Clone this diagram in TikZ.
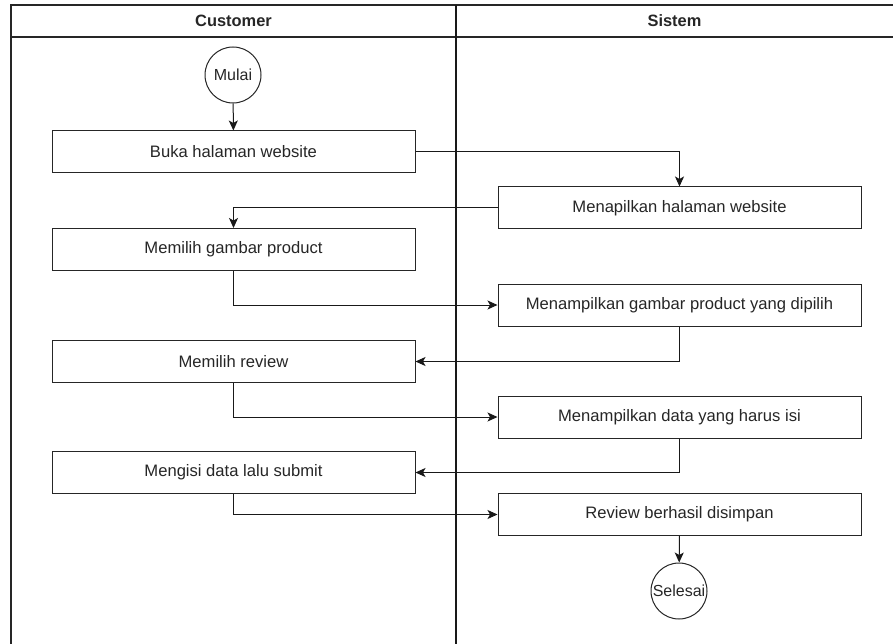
\documentclass[tikz,border=0pt]{standalone}
\usepackage{fontspec}
\setmainfont{Liberation Sans}
\usetikzlibrary{arrows.meta}
\begin{document}
\begin{tikzpicture}[x=1pt,y=-1pt,
  frame/.style={line width=1.3pt,draw=black!85},
  actbox/.style={draw=black!85,line width=1pt,minimum width=363pt,minimum height=42pt,inner sep=0pt,font=\fontsize{16.6}{19}\selectfont,text=black!85},
  termnode/.style={draw=black!85,line width=1pt,circle,minimum size=56pt,inner sep=0pt,font=\fontsize{16}{18}\selectfont,text=black!85},
  flow/.style={line width=1pt,draw=black!90,-{Stealth[length=10pt,width=9pt,inset=2.5pt]}},
  lanehead/.style={font=\bfseries\fontsize{16.4}{19}\selectfont,text=black!85}]
\useasboundingbox (0,0) rectangle (893,644);
\begin{scope}
\clip (0,0) rectangle (893,644);
\draw[frame] (11,700) -- (11,5) -- (950,5);
\draw[frame] (11,37) -- (950,37);
\draw[line width=1.2pt,draw=black!90] (456,5) -- (456,700);
\end{scope}
\node[lanehead] (hc) at (233.5,21) {Customer};
\node[lanehead] (hs) at (674.5,21) {Sistem};

\node[termnode] (mulai) at (233,75) {Mulai};
\node[actbox] (buka) at (233.5,152) {Buka halaman website};
\node[actbox] (tampil) at (679.5,208) {Menapilkan halaman website};
\node[actbox] (pilihgb) at (233.5,249.5) {Memilih gambar product};
\node[actbox] (tampilgb) at (679.5,305) {Menampilkan gambar product yang dipilih};
\node[actbox] (pilihrev) at (233.5,361.5) {Memilih review};
\node[actbox] (tampildata) at (679.5,417) {Menampilkan data yang harus isi};
\node[actbox] (isi) at (233.5,472.5) {Mengisi data lalu submit};
\node[actbox] (simpan) at (679.5,514.5) {Review berhasil disimpan};
\node[termnode] (selesai) at (679,591) {Selesai};

\draw[flow] (mulai) -- (buka);
\draw[flow] (buka.east) -| (tampil.north);
\draw[flow] (tampil.west) -| (pilihgb.north);
\draw[flow] (pilihgb.south) |- (tampilgb.west);
\draw[flow] (tampilgb.south) |- (pilihrev.east);
\draw[flow] (pilihrev.south) |- (tampildata.west);
\draw[flow] (tampildata.south) |- (isi.east);
\draw[flow] (isi.south) |- (simpan.west);
\draw[flow] (simpan) -- (selesai);
\end{tikzpicture}
\end{document}
